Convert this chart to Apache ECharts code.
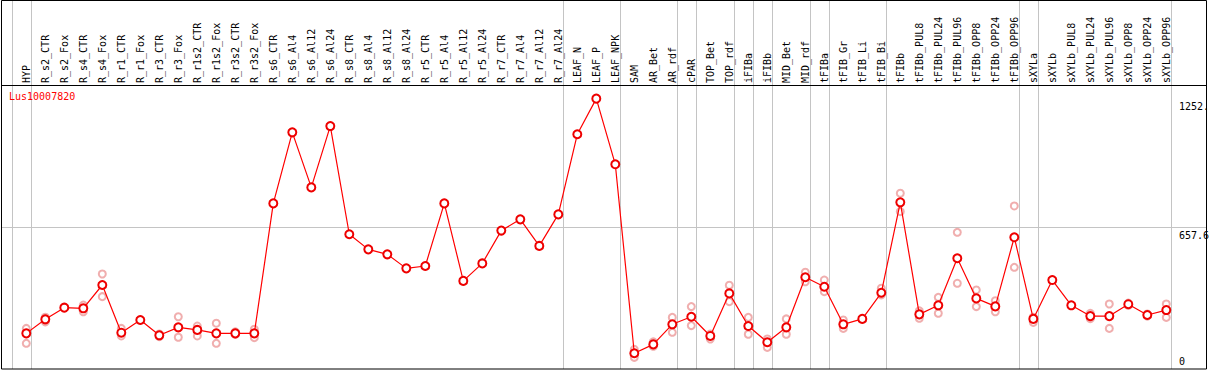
<!DOCTYPE html>
<html>
<head>
<meta charset="utf-8">
<script src="https://cdn.jsdelivr.net/npm/echarts@6/dist/echarts.min.js"></script>
<style>
html,body{margin:0;padding:0;background:#fff;}
#c{width:1209px;height:370px;}
</style>
</head>
<body>
<div id="c"></div>
<script>
const categories = ['HYP','R_s2_CTR','R_s2_Fox','R_s4_CTR','R_s4_Fox','R_r1_CTR','R_r1_Fox','R_r3_CTR','R_r3_Fox','R_r1s2_CTR','R_r1s2_Fox','R_r3s2_CTR','R_r3s2_Fox','R_s6_CTR','R_s6_Al4','R_s6_Al12','R_s6_Al24','R_s8_CTR','R_s8_Al4','R_s8_Al12','R_s8_Al24','R_r5_CTR','R_r5_Al4','R_r5_Al12','R_r5_Al24','R_r7_CTR','R_r7_Al4','R_r7_Al12','R_r7_Al24','LEAF_N','LEAF_P','LEAF_NPK','SAM','AR_Bet','AR_rdf','cPAR','TOP_Bet','TOP_rdf','iFIBa','iFIBb','MID_Bet','MID_rdf','tFIBa','tFIB_Gr','tFIB_Li','tFIB_Bi','tFIBb','tFIBb_PUL8','tFIBb_PUL24','tFIBb_PUL96','tFIBb_OPP8','tFIBb_OPP24','tFIBb_OPP96','sXYLa','sXYLb','sXYLb_PUL8','sXYLb_PUL24','sXYLb_PUL96','sXYLb_OPP8','sXYLb_OPP24','sXYLb_OPP96'];

const meanValues = [165,230,284,281,389,168,227,156,193,181,165,165,165,767,1096,841,1125,624,554,531,466,477,767,408,489,641,693,570,716,1087,1252,948,73,114,207,242,153,350,199,124,193,425,381,207,232,353,772,253,295,513,327,290,610,232,412,295,245,245,300,250,273];

const repHigh = [188,240,null,296,440,188,null,162,242,199,212,172,184,null,null,null,null,null,null,null,null,null,null,null,null,null,null,null,null,null,null,null,91,126,239,289,162,388,239,139,232,448,412,227,null,374,814,269,332,633,366,316,755,240,null,null,258,301,305,255,301];

const repLow = [119,218,null,265,335,153,null,150,147,153,119,160,145,null,null,null,null,null,null,null,null,null,null,null,null,null,null,null,null,null,null,null,54,105,170,201,139,312,161,100,161,404,358,188,null,343,729,235,258,397,289,265,471,216,null,null,233,188,295,245,239];

// group separators: gridline drawn after these category indices (-1 = before first)
const separatorsAfter = [-1,0,28,31,34,35,37,38,39,41,42,45,52,53,60];

const yMax = 1315.2;
const yRefLine = 657.6;
const yTickValues = [0, 657.6, 1252.4];
const yTickLabels = ['0', '657.6', '1252.'];
const geneName = 'Lus10007820';

const FONT = 'DejaVu Sans Mono';

const chart = echarts.init(document.getElementById('c'), null, {renderer: 'svg'});

const reps = [];
repHigh.forEach((v, i) => { if (v != null) reps.push([i, v]); });
repLow.forEach((v, i) => { if (v != null) reps.push([i, v]); });

chart.setOption({
  animation: false,
  backgroundColor: '#fff',
  title: {
    text: geneName, left: 9, top: 91, padding: 0,
    textStyle: {color: '#ff0000', fontSize: 10, fontWeight: 'normal', fontFamily: FONT}
  },
  grid: {left: 16.8, right: 33.2, top: 85, bottom: 1, containLabel: false},
  xAxis: {
    type: 'category',
    data: categories,
    position: 'top',
    boundaryGap: true,
    axisLine: {show: false},
    axisTick: {show: false},
    splitLine: {show: false},
    axisLabel: {
      interval: 0, rotate: 90, margin: 2,
      fontFamily: FONT, fontSize: 10, color: '#000'
    }
  },
  yAxis: {
    type: 'value', min: 0, max: yMax, show: false,
    splitLine: {show: false}
  },
  series: [
    {
      type: 'scatter',
      data: reps,
      symbol: 'emptyCircle',
      symbolSize: 7,
      itemStyle: {color: '#ec9a9a', borderWidth: 1.2},
      z: 2,
      silent: true
    },
    {
      type: 'line',
      data: meanValues,
      symbol: 'emptyCircle',
      symbolSize: 8,
      lineStyle: {color: '#ff0000', width: 1.2},
      itemStyle: {color: '#ee0000', borderWidth: 1.6},
      z: 3,
      silent: true
    }
  ]
});

// decorations computed through the chart's own scales
const px = i => chart.convertToPixel({xAxisIndex: 0}, i);
const py = v => chart.convertToPixel({yAxisIndex: 0}, v);
const bw = px(1) - px(0);
const frameL = 1.5, frameR = 1206.5, frameT = 0.5, frameB = 369;
const graphics = [];

separatorsAfter.forEach(i => {
  const x = Math.round(px(0) + i * bw + 4.3) + 0.5;
  graphics.push({type: 'line', silent: true, z: 0,
    shape: {x1: x, y1: frameT, x2: x, y2: frameB},
    style: {stroke: '#c4c4c4', lineWidth: 1}});
});

const yr = Math.round(py(yRefLine)) + 0.5;
graphics.push({type: 'line', silent: true, z: 0,
  shape: {x1: frameL, y1: yr, x2: frameR, y2: yr},
  style: {stroke: '#c4c4c4', lineWidth: 1}});

// frame and header divider
graphics.push({type: 'rect', silent: true, z: 10,
  shape: {x: frameL, y: frameT, width: frameR - frameL, height: frameB - frameT},
  style: {fill: 'none', stroke: '#000', lineWidth: 1}});
const hy = 85.5;
graphics.push({type: 'line', silent: true, z: 10,
  shape: {x1: frameL, y1: hy, x2: frameR, y2: hy},
  style: {stroke: '#000', lineWidth: 1}});

yTickValues.forEach((v, k) => {
  const y = py(v);
  const isZero = v === 0;
  graphics.push({type: 'text', silent: true, z: 11,
    x: 1179, y: isZero ? y - 3 : y + 3,
    style: {text: yTickLabels[k], fill: '#000', font: '10px "' + FONT + '"',
      textAlign: 'left', textVerticalAlign: isZero ? 'bottom' : 'top'}});
});

chart.setOption({graphic: graphics});
</script>
</body>
</html>
